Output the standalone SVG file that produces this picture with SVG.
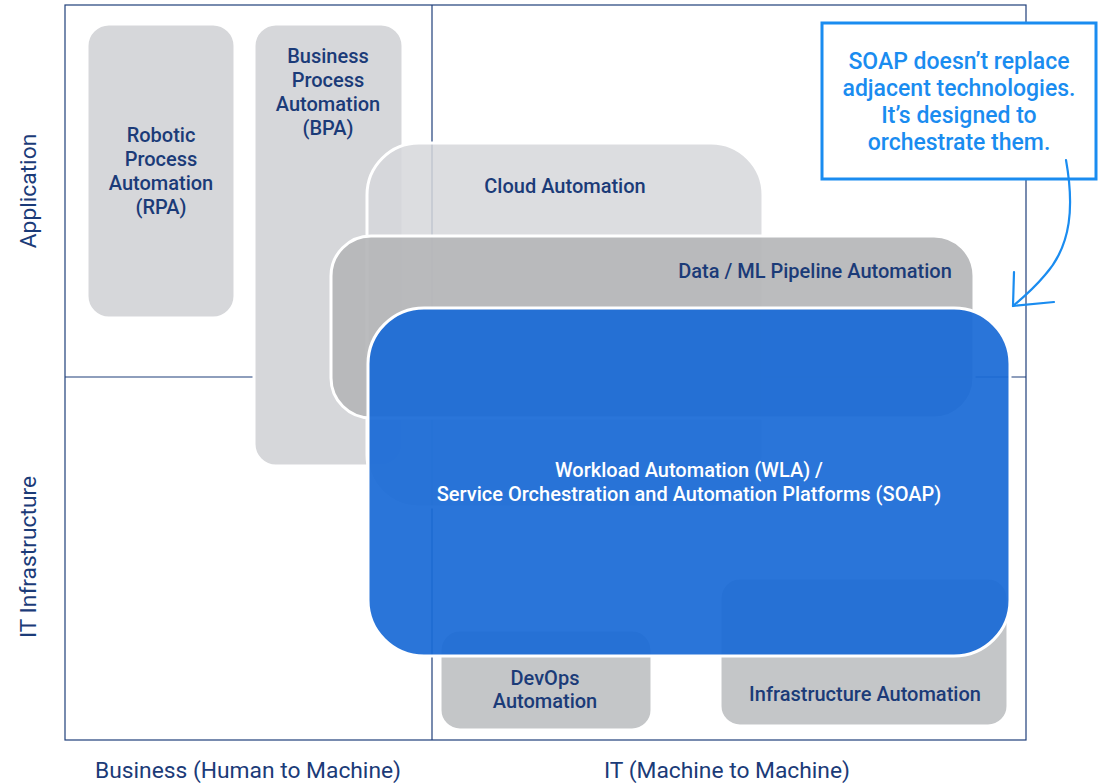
<svg xmlns="http://www.w3.org/2000/svg" width="1105" height="783" viewBox="0 0 1105 783">
<style>
.lbl{font-family:Roboto,"Liberation Sans",sans-serif;font-weight:500;font-size:20px;fill:#1b3b78;text-anchor:middle}
.wl{fill:#ffffff}
.ax{font-family:Roboto,"Liberation Sans",sans-serif;font-size:22.8px;fill:#1b3b78;text-anchor:middle}
.call{font-family:Roboto,"Liberation Sans",sans-serif;font-weight:500;font-size:23px;fill:#1a8cf0;text-anchor:middle}
.box{fill:#d6d7da;stroke:#ffffff;stroke-width:3}
.grid{stroke:#1f3f7a;stroke-width:1.2;fill:none}
</style>
<rect x="0" y="0" width="1105" height="783" fill="#ffffff"/>
<g id="quadrants">
<rect x="65" y="5" width="961" height="735" fill="#eef5fd" class="grid"/>
<line x1="432" y1="5" x2="432" y2="740" class="grid"/>
<line x1="65" y1="377" x2="1026" y2="377" class="grid"/>
</g>
<g id="rpa"><rect class="box" x="87" y="24" width="148" height="294" rx="22"/>
<text class="lbl" x="161" y="142">Robotic</text><text class="lbl" x="161" y="166">Process</text><text class="lbl" x="161" y="190">Automation</text><text class="lbl" x="161" y="214">(RPA)</text></g>
<g id="bpa"><rect class="box" x="254" y="24" width="149" height="442" rx="22"/>
<text class="lbl" x="328" y="63">Business</text><text class="lbl" x="328" y="87">Process</text><text class="lbl" x="328" y="111">Automation</text><text class="lbl" x="328" y="135">(BPA)</text></g>
<g id="cloud"><rect x="367" y="143" width="396" height="364" rx="52" fill="#d6d7da" fill-opacity="0.85" stroke="#ffffff" stroke-width="3"/>
<text class="lbl" x="565" y="193">Cloud Automation</text></g>
<g id="dataml"><rect x="331" y="236" width="643" height="182" rx="40" fill="#b5b6b8" fill-opacity="0.92" stroke="#ffffff" stroke-width="3"/>
<text class="lbl" x="815" y="278">Data / ML Pipeline Automation</text></g>
<g id="devops"><rect x="440" y="630" width="212" height="100" rx="20" fill="#c4c6c8" stroke="#ffffff" stroke-width="3"/>
<text class="lbl" x="545" y="685">DevOps</text><text class="lbl" x="545" y="708">Automation</text></g>
<g id="infra"><rect x="720" y="578" width="288" height="148" rx="20" fill="#c4c6c8" stroke="#ffffff" stroke-width="3"/>
<text class="lbl" x="865" y="701">Infrastructure Automation</text></g>
<g id="wla"><rect x="368" y="308" width="642" height="348" rx="56" fill="#1a6ad6" fill-opacity="0.93" stroke="#ffffff" stroke-width="3"/>
<text class="lbl wl" x="689" y="477">Workload Automation (WLA) /</text><text class="lbl wl" x="689" y="501">Service Orchestration and Automation Platforms (SOAP)</text></g>
<g id="callout"><rect x="822" y="23" width="274" height="156" fill="#ffffff" stroke="#1a8cf0" stroke-width="3"/>
<text class="call" x="959" y="69">SOAP doesn’t replace</text><text class="call" x="959" y="96">adjacent technologies.</text><text class="call" x="959" y="123">It’s designed to</text><text class="call" x="959" y="150">orchestrate them.</text></g>
<g id="connectors" fill="none" stroke="#1a8cf0" stroke-width="2.2" stroke-linecap="round">
<path d="M1066,160 C1074,205 1072,245 1045,275 C1035,287 1025,296 1013,306"/>
<path d="M1013,306 L1054,302"/>
<path d="M1013,306 L1014,272"/>
</g>
<g id="axes">
<text class="ax" transform="translate(36,191) rotate(-90)">Application</text>
<text class="ax" transform="translate(36,557) rotate(-90)">IT Infrastructure</text>
<text class="ax" x="248" y="778">Business (Human to Machine)</text>
<text class="ax" x="727" y="778">IT (Machine to Machine)</text>
</g>
</svg>
